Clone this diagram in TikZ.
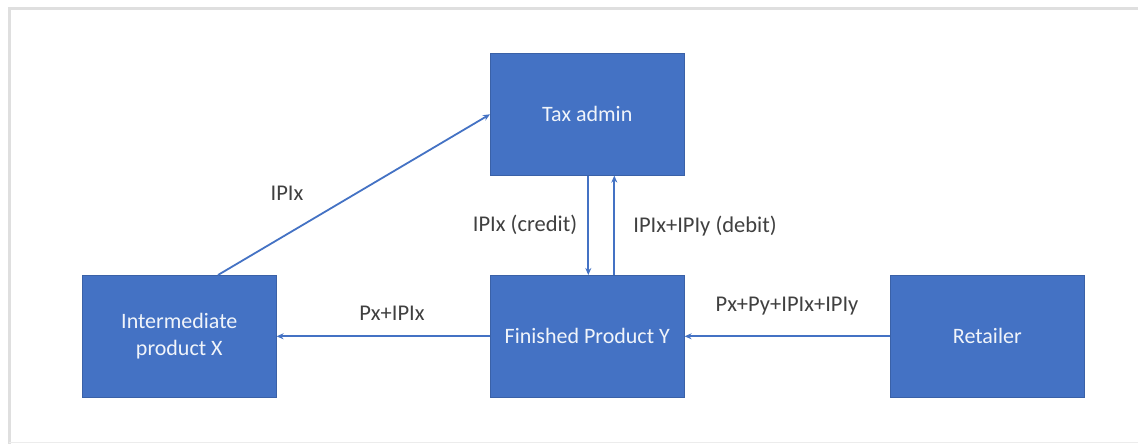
\documentclass[tikz,border=0pt]{standalone}
\usepackage{fontspec}
\setmainfont{Carlito}
\usetikzlibrary{arrows.meta}
\definecolor{boxblue}{HTML}{4472C4}
\definecolor{labelgray}{HTML}{404040}
\tikzset{
  box/.style={fill=boxblue, draw=boxblue!85!black, line width=0.6pt, minimum width=194pt, minimum height=122pt, inner sep=0pt, text=white!92!boxblue, font=\fontsize{22}{27}\selectfont, align=center, anchor=north west},
  conn/.style={draw=boxblue, line width=1.8pt, -{Stealth[length=7pt,width=6pt]}},
  lbl/.style={text=labelgray, font=\fontsize{22.5}{27}\selectfont, inner sep=0pt}
}
\begin{document}
\begin{tikzpicture}[x=1pt,y=-1pt]
\useasboundingbox (0,0) rectangle (1138,444);
\fill[white] (0,0) rectangle (1138,444);
% page shadow frame
\draw[gray!25, line width=3pt] (9,444) -- (9,9) -- (1138,9);
\draw[gray!15, line width=1pt] (9,442) -- (1138,442);
% boxes
\node[box] (tax) at (490,53) {Tax admin};
\node[box] (inter) at (82,275) {Intermediate\\product X};
\node[box] (fin) at (490,275) {Finished Product Y};
\node[box] (ret) at (890,275) {Retailer};
% connectors
\coordinate (interTop) at (218,275);
\draw[conn] (interTop) -- (tax.west);
\draw[conn] ([xshift=1pt]tax.south) -- ([xshift=1pt]fin.north);
\draw[conn] ([xshift=27pt]fin.north) -- ([xshift=27pt]tax.south);
\draw[conn] (fin.west) -- (inter.east);
\draw[conn] (ret.west) -- (fin.east);
% labels
\node[lbl] (l1) at (287,193) {IPIx};
\node[lbl] (l2) at (525,225) {IPIx (credit)};
\node[lbl] (l3) at (705,226) {IPIx+IPIy (debit)};
\node[lbl] (l4) at (392,313) {Px+IPIx};
\node[lbl] (l5) at (787,306) {Px+Py+IPIx+IPIy};
\end{tikzpicture}
\end{document}
